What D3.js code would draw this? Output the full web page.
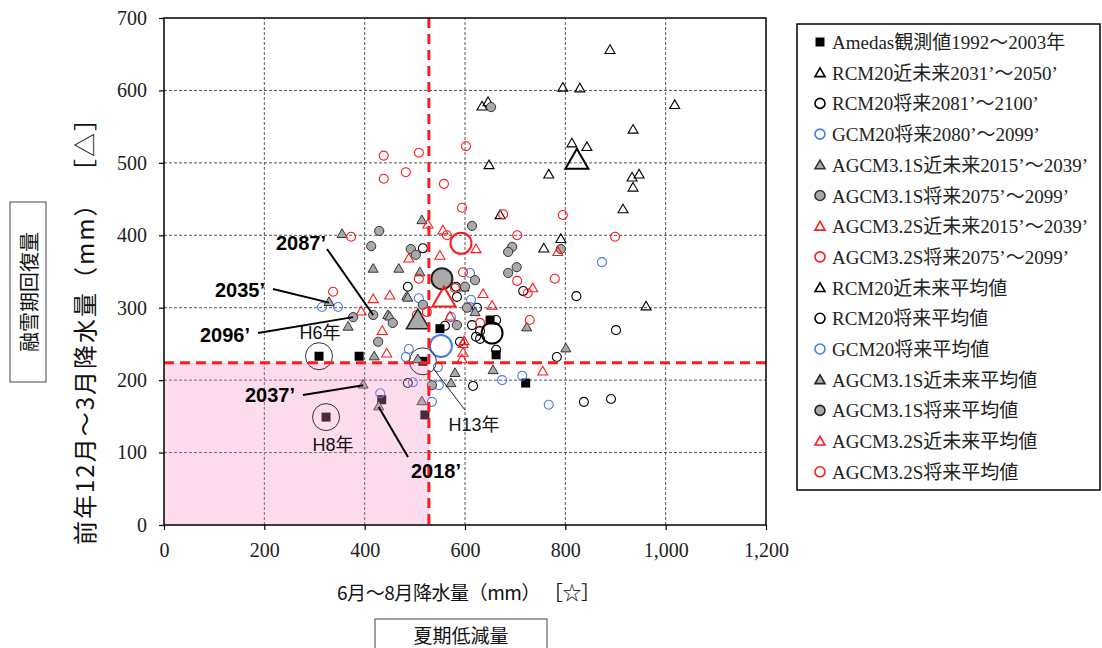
<!DOCTYPE html>
<html>
<head>
<meta charset="utf-8">
<script src="https://cdn.jsdelivr.net/npm/d3@7"></script>
<style>
  body { margin: 0; background: #fff; }
  svg { display: block; }
</style>
</head>
<body>
<svg id="chart" width="1102" height="648"></svg>
<script>
// values: [summer precip Jun-Aug (mm), winter precip Dec-Mar (mm)]
const amedas = [[309,233],[389,233],[434,173],[323,149],[520,152],[516,226],[550,271],[650,283],[662,235],[721,196]];
const rcmNear = [[889,655],[795,603],[829,602],[1018,579],[634,577],[646,583],[935,545],[813,526],[843,521],
  [648,496],[767,483],[933,479],[947,483],[935,465],[915,435],[670,427],[791,394],[757,381],[961,301]];
const rcmFar = [[822,316],[901,269],[783,232],[837,170],[891,174],[716,323],[662,283],[662,242],[616,192],[630,257],
  [614,276],[560,275],[622,260],[630,268],[590,253],[516,382],[486,329],[584,315],[624,300],[582,329],[486,196]];
const gcmFar = [[315,301],[347,301],[488,243],[482,232],[496,197],[431,182],[534,170],[548,193],[546,218],
  [610,348],[612,311],[508,313],[572,287],[610,301],[674,200],[714,206],[767,166],[873,363]];
const agcm31Near = [[355,401],[514,420],[417,353],[468,353],[329,307],[367,273],[446,289],[484,315],[419,232],
  [397,193],[428,163],[514,170],[580,209],[572,195],[506,228],[510,348],[486,313],[598,327],[450,287],
  [620,293],[723,272],[801,243],[656,213]];
const agcm31Far = [[652,577],[429,406],[413,385],[492,381],[502,373],[614,413],[694,384],[686,377],[703,356],
  [791,381],[377,287],[417,290],[456,279],[427,253],[534,193],[620,338],[600,329],[604,300],[516,304],
  [686,348],[584,276]];
const agcm32Near = [[526,414],[556,406],[488,367],[550,371],[622,380],[450,316],[636,318],[654,302],[735,326],
  [393,294],[417,311],[435,267],[444,236],[596,237],[596,249],[570,287],[598,253],[594,228],[755,211],[785,376]];
const agcm32Far = [[438,510],[508,514],[602,523],[482,487],[438,478],[558,471],[594,438],[373,398],[564,400],
  [676,429],[795,428],[704,400],[899,398],[596,349],[508,340],[580,327],[704,337],[725,320],[337,322],
  [524,294],[630,279],[729,283],[504,290],[779,340]];

const rcmNearMean = [[823,501]];
const rcmFarMean = [[654,265]];
const gcmFarMean = [[552,247]];
const agcm31NearMean = [[506,280]];
const agcm31FarMean = [[554,340]];
const agcm32NearMean = [[558,311]];
const agcm32FarMean = [[592,389]];

// threshold lines (mm)
const thresholdX = 528;
const thresholdY = 224;

const xTicks = [0, 200, 400, 600, 800, 1000, 1200];
const yTicks = [0, 100, 200, 300, 400, 500, 600, 700];

// highlighted observation years and labelled projection years
const markedYears = [{ label: 'H6年', at: [309,233] }, { label: 'H8年', at: [323,149] }, { label: 'H13年', at: [516,226] }];
const yearLabels = [
  { label: '2087’', at: [417,290] },
  { label: '2035’', at: [329,307] },
  { label: '2096’', at: [377,287] },
  { label: '2037’', at: [397,193] },
  { label: '2018’', at: [428,163] },
];

const legendLabels = [
  'Amedas観測値1992～2003年',
  'RCM20近未来2031’～2050’',
  'RCM20将来2081’～2100’',
  'GCM20将来2080’～2099’',
  'AGCM3.1S近未来2015’～2039’',
  'AGCM3.1S将来2075’～2099’',
  'AGCM3.2S近未来2015’～2039’',
  'AGCM3.2S将来2075’～2099’',
  'RCM20近未来平均値',
  'RCM20将来平均値',
  'GCM20将来平均値',
  'AGCM3.1S近未来平均値',
  'AGCM3.1S将来平均値',
  'AGCM3.2S近未来平均値',
  'AGCM3.2S将来平均値',
];

// ---- layout ----
const BLUE = '#4a78f0', RED = '#ff1a1a', GREY = '#a9a9a9';
const SERIF = '"Liberation Serif","Noto Sans CJK JP",serif';
const GOTHIC = '"Noto Sans CJK JP","Liberation Sans",sans-serif';

const series = [
  { data: amedas,        shape: 'square', r: 4.5, fill: '#000', stroke: '#000', sw: 0 },
  { data: rcmNear,       shape: 'tri',    r: 5,   fill: 'none', stroke: '#000', sw: 1.1 },
  { data: rcmFar,        shape: 'circle', r: 4.5, fill: 'none', stroke: '#000', sw: 1.1 },
  { data: gcmFar,        shape: 'circle', r: 4.5, fill: 'none', stroke: BLUE,   sw: 1.1 },
  { data: agcm31Near,    shape: 'tri',    r: 5,   fill: GREY,   stroke: '#333', sw: 1 },
  { data: agcm31Far,     shape: 'circle', r: 4.6, fill: GREY,   stroke: '#333', sw: 1 },
  { data: agcm32Near,    shape: 'tri',    r: 5,   fill: 'none', stroke: RED,    sw: 1.1 },
  { data: agcm32Far,     shape: 'circle', r: 4.5, fill: 'none', stroke: RED,    sw: 1.1 },
  { data: rcmNearMean,   shape: 'tri',    r: 11.5, fill: 'none', stroke: '#000', sw: 2 },
  { data: rcmFarMean,    shape: 'circle', r: 10.5, fill: 'none', stroke: '#000', sw: 2 },
  { data: gcmFarMean,    shape: 'circle', r: 11,  fill: 'none', stroke: BLUE,   sw: 2 },
  { data: agcm31NearMean, shape: 'tri',   r: 11.5, fill: GREY,  stroke: '#222', sw: 1.5 },
  { data: agcm31FarMean, shape: 'circle', r: 10.5, fill: GREY,  stroke: '#222', sw: 2 },
  { data: agcm32NearMean, shape: 'tri',   r: 11.5, fill: 'none', stroke: RED,   sw: 2 },
  { data: agcm32FarMean, shape: 'circle', r: 10.5, fill: 'none', stroke: RED,   sw: 2 },
];

const svg = d3.select('#chart');
const x = d3.scaleLinear().domain([0, 1200]).range([164, 766]);
const y = d3.scaleLinear().domain([0, 700]).range([525, 18]);

// grid
const grid = svg.append('g').attr('stroke', '#555').attr('stroke-width', 1).attr('stroke-dasharray', '3,2');
grid.selectAll('.gx').data(xTicks.slice(1, -1)).join('line')
  .attr('x1', d => x(d)).attr('x2', d => x(d)).attr('y1', y(0)).attr('y2', y(700));
grid.selectAll('.gy').data(yTicks.slice(1, -1)).join('line')
  .attr('y1', d => y(d)).attr('y2', d => y(d)).attr('x1', x(0)).attr('x2', x(1200));

function markPath(shape, r) {
  if (shape === 'tri') {
    // equilateral triangle, apex up, centred on its centroid
    const s = r * 2;
    return d3.symbol(d3.symbolTriangle, Math.sqrt(3) / 4 * s * s)();
  }
  if (shape === 'square') return `M${-r},${-r}h${2 * r}v${2 * r}h${-2 * r}Z`;
  return d3.symbol(d3.symbolCircle, Math.PI * r * r)();
}

function drawMarks(g, s, pts) {
  g.append('g').selectAll('path').data(pts).join('path')
    .attr('transform', d => `translate(${x(d[0])},${y(d[1])})`)
    .attr('d', markPath(s.shape, s.r))
    .attr('fill', s.fill)
    .attr('stroke', s.sw ? s.stroke : 'none')
    .attr('stroke-width', s.sw);
}

const marks = svg.append('g');
series.forEach(s => drawMarks(marks, s, s.data));

// pink low zone, laid over the marks
svg.append('rect')
  .attr('x', x(0)).attr('y', y(thresholdY))
  .attr('width', x(thresholdX) - x(0)).attr('height', y(0) - y(thresholdY))
  .attr('fill', '#f78fc3').attr('opacity', 0.3);

// circles around observation years
svg.append('g').selectAll('circle').data(markedYears).join('circle')
  .attr('cx', d => x(d.at[0])).attr('cy', d => y(d.at[1])).attr('r', 13.5)
  .attr('fill', 'none').attr('stroke', '#333').attr('stroke-width', 1);

// red threshold lines
svg.append('line')
  .attr('x1', x(thresholdX)).attr('x2', x(thresholdX)).attr('y1', y(700)).attr('y2', y(0))
  .attr('stroke', RED).attr('stroke-width', 3).attr('stroke-dasharray', '10,6');
svg.append('line')
  .attr('x1', x(0)).attr('x2', x(1200)).attr('y1', y(thresholdY)).attr('y2', y(thresholdY))
  .attr('stroke', RED).attr('stroke-width', 3).attr('stroke-dasharray', '10,6');

// frame + axes
svg.append('rect').attr('x', x(0)).attr('y', y(700))
  .attr('width', x(1200) - x(0)).attr('height', y(0) - y(700))
  .attr('fill', 'none').attr('stroke', '#000').attr('stroke-width', 1.5);

const xAxis = svg.append('g').attr('transform', `translate(0,${y(0)})`)
  .call(d3.axisBottom(x).tickValues(xTicks).tickFormat(d3.format(',')).tickSize(5).tickPadding(13));
const yAxis = svg.append('g').attr('transform', `translate(${x(0)},0)`)
  .call(d3.axisLeft(y).tickValues(yTicks).tickSize(5).tickPadding(12));
[xAxis, yAxis].forEach(a => {
  a.select('.domain').remove();
  a.selectAll('line').attr('stroke', '#000').attr('stroke-width', 1.2);
  a.selectAll('text').attr('font-family', SERIF).attr('font-size', 20).attr('fill', '#222');
});

// observation year labels
const obsLabelPos = { 'H6年': [320, 339], 'H8年': [333, 451], 'H13年': [474, 431] };
svg.append('g').selectAll('text').data(markedYears).join('text')
  .attr('x', d => obsLabelPos[d.label][0]).attr('y', d => obsLabelPos[d.label][1])
  .attr('text-anchor', 'middle').attr('font-family', '"Liberation Sans","Noto Sans CJK JP",sans-serif')
  .attr('font-size', 18).attr('fill', '#111').text(d => d.label);
const h13 = markedYears[2];
svg.append('line')
  .attr('x1', x(h13.at[0]) + 11).attr('y1', y(h13.at[1]) + 8).attr('x2', 465).attr('y2', 410)
  .attr('stroke', '#222').attr('stroke-width', 1);

// projection year labels with leader lines
const yearPos = { '2087’': [276, 250, 327, 249], '2035’': [215, 297, 273, 289], '2096’': [200, 342, 258, 333],
  '2037’': [245, 402, 303, 395], '2018’': [411, 478, 408, 457] };
const yl = svg.append('g');
yl.selectAll('line').data(yearLabels).join('line')
  .attr('x1', d => yearPos[d.label][2]).attr('y1', d => yearPos[d.label][3])
  .attr('x2', d => x(d.at[0])).attr('y2', d => y(d.at[1]))
  .attr('stroke', '#000').attr('stroke-width', 2);
yl.selectAll('text').data(yearLabels).join('text')
  .attr('x', d => yearPos[d.label][0]).attr('y', d => yearPos[d.label][1])
  .attr('font-family', '"Liberation Sans",sans-serif').attr('font-weight', 'bold')
  .attr('font-size', 20).attr('fill', '#000').text(d => d.label);

// axis titles
svg.append('text')
  .attr('transform', 'translate(83,545) rotate(-90)')
  .attr('dominant-baseline', 'central')
  .attr('font-family', GOTHIC).attr('font-size', 24).attr('fill', '#111')
  .attr('textLength', 438).attr('lengthAdjust', 'spacing')
  .text('前年12月～3月降水量（mm） ［△］');
svg.append('text')
  .attr('x', 337).attr('y', 600)
  .attr('font-family', GOTHIC).attr('font-size', 19).attr('fill', '#111')
  .attr('textLength', 263).attr('lengthAdjust', 'spacing')
  .text('6月～8月降水量（mm） ［☆］');

// boxed captions
svg.append('rect').attr('x', 10).attr('y', 202).attr('width', 36).attr('height', 180)
  .attr('fill', '#fff').attr('stroke', '#444').attr('stroke-width', 1);
svg.append('text')
  .attr('transform', 'translate(28,292) rotate(-90)')
  .attr('text-anchor', 'middle').attr('dominant-baseline', 'central')
  .attr('font-family', GOTHIC).attr('font-size', 20).attr('fill', '#111').text('融雪期回復量');
svg.append('rect').attr('x', 375).attr('y', 619).attr('width', 172).attr('height', 40)
  .attr('fill', '#fff').attr('stroke', '#444').attr('stroke-width', 1);
svg.append('text').attr('x', 461).attr('y', 643)
  .attr('text-anchor', 'middle').attr('font-family', GOTHIC).attr('font-size', 19).attr('fill', '#111')
  .text('夏期低減量');

// legend
svg.append('rect').attr('x', 797).attr('y', 24).attr('width', 303).attr('height', 466)
  .attr('fill', '#fff').attr('stroke', '#000').attr('stroke-width', 1.5);
const leg = svg.append('g').selectAll('g').data(legendLabels).join('g')
  .attr('transform', (d, i) => `translate(820,${42 + i * 30.7})`);
leg.each(function (d, i) {
  const s = series[i];
  const g = d3.select(this);
  const r = s.shape === 'square' ? 4.5 : 5;
  g.append('path').attr('d', markPath(s.shape, r))
    .attr('transform', s.shape === 'tri' ? 'translate(0,1)' : null)
    .attr('fill', s.fill).attr('stroke', s.sw ? s.stroke : 'none')
    .attr('stroke-width', s.shape === 'square' ? 0 : 1.6);
  g.append('text').attr('x', 12).attr('y', 7)
    .attr('font-family', SERIF).attr('font-size', 19).attr('fill', '#222').text(d);
});
</script>
</body>
</html>
